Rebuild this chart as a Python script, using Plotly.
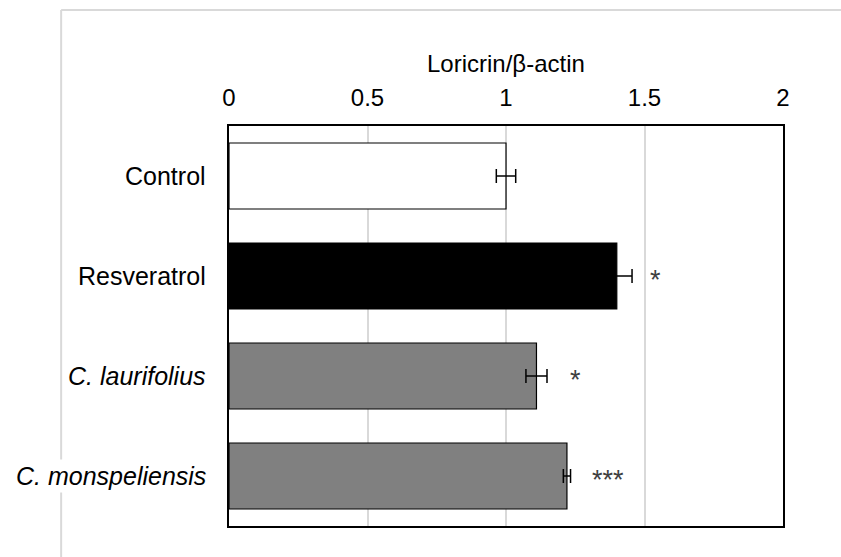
import plotly.graph_objects as go

categories = ["Control", "Resveratrol", "<i>C. laurifolius</i>", "<i>C. monspeliensis</i>"]
values = [1.0, 1.40, 1.11, 1.22]
errors = [0.035, 0.055, 0.038, 0.013]
bar_colors = ["#ffffff", "#000000", "#808080", "#808080"]
stars = ["", "*", "*", "***"]
star_x = [None, 1.54, 1.25, 1.367]
tick_vals = [0, 0.5, 1, 1.5, 2]
tick_text = ["0", "0.5", "1", "1.5", "2"]

FONT = "Liberation Sans, Arial"

fig = go.Figure()
fig.add_trace(go.Bar(
    y=categories, x=values, orientation="h",
    marker=dict(color=bar_colors, line=dict(color="#000000", width=1.2)),
    error_x=dict(type="data", array=errors, visible=True, color="#000000", thickness=1.5, width=7),
    showlegend=False,
))

annotations = []
for c in categories:
    annotations.append(dict(x=0, y=c, xref="paper", yref="y", text=c, showarrow=False,
                            font=dict(family=FONT, size=25, color="#000000"),
                            xanchor="right", yanchor="middle", xshift=-20,
                            bgcolor="#ffffff", borderpad=2))
for c, s, sx in zip(categories, stars, star_x):
    if s:
        annotations.append(dict(x=sx, y=c, xref="x", yref="y", text=s, showarrow=False,
                                font=dict(family=FONT, size=27, color="#404040"),
                                xanchor="center", yanchor="middle", yshift=-4))
annotations.append(dict(x=0.5, y=1.0, xref="paper", yref="paper", yshift=63,
                        text="Loricrin/β-actin", showarrow=False,
                        font=dict(family=FONT, size=24, color="#000000"),
                        xanchor="center", yanchor="middle"))

shapes = [
    dict(type="line", xref="paper", yref="paper", x0=-0.303, x1=1.2, y0=1.29, y1=1.29,
         line=dict(color="#d9d9d9", width=2)),
    dict(type="line", xref="paper", yref="paper", x0=-0.303, x1=-0.303, y0=1.29, y1=-0.1,
         line=dict(color="#d9d9d9", width=2)),
]

fig.update_layout(
    width=841, height=557,
    margin=dict(l=229, r=58, t=126, b=31),
    paper_bgcolor="white", plot_bgcolor="white",
    bargap=0.34,
    font=dict(family=FONT, size=18, color="#000000"),
    annotations=annotations,
    shapes=shapes,
    xaxis=dict(side="top", range=[0, 2], tickvals=tick_vals, ticktext=tick_text,
               showgrid=True, gridcolor="#d9d9d9", gridwidth=1.5,
               showline=True, mirror=True, linecolor="#000000", linewidth=1.5,
               ticks="outside", ticklen=9, tickcolor="rgba(0,0,0,0)",
               tickfont=dict(size=24), zeroline=False, fixedrange=True),
    yaxis=dict(autorange="reversed", showline=True, mirror=True, linecolor="#000000", linewidth=1.5,
               showticklabels=False, fixedrange=True),
)

fig.write_html("out.html")
